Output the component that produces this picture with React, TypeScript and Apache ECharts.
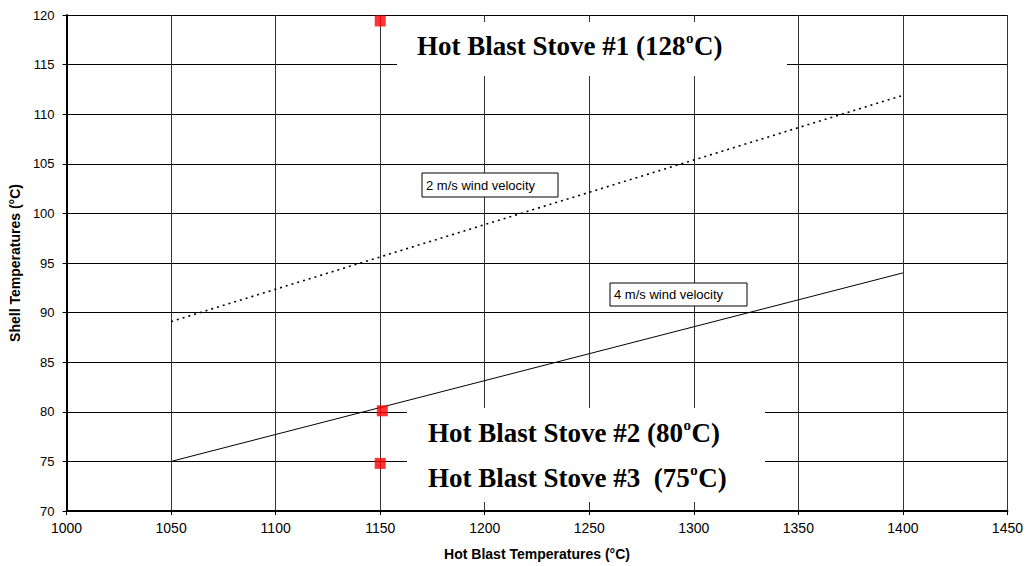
import React, { useEffect, useRef } from "react";
import * as echarts from "echarts";

const xTicks = { min: 1000, max: 1450, interval: 50 };
const yTicks = { min: 70, max: 120, interval: 5 };

const wind2Label = "2 m/s wind velocity";
const wind2 = [
  [1050, 89.1],
  [1400, 111.9],
];
const wind4Label = "4 m/s wind velocity";
const wind4 = [
  [1050, 75.0],
  [1400, 94.0],
];
const stovePoints = [
  [1150, 119.4],
  [1151, 80.1],
  [1150, 74.8],
];
const stoveLabels = [
  ["Hot Blast Stove #1 (128", "o", "C)"],
  ["Hot Blast Stove #2 (80", "o", "C)"],
  ["Hot Blast Stove #3  (75", "o", "C)"],
];
const xAxisName = "Hot Blast Temperatures (°C)";
const yAxisName = "Shell Temperatures (°C)";

const SANS = "'Liberation Sans', Arial, sans-serif";
const SERIF = "'Liberation Serif', 'Times New Roman', serif";
const BIG = `bold 27px ${SERIF}`;
const SUP = `bold 15px ${SERIF}`;

function measure(text: string, font: string) {
  const c = document.createElement("canvas").getContext("2d");
  if (!c) return text.length * 12;
  c.font = font;
  return c.measureText(text).width;
}

function stoveText(parts: string[], x: number, y: number) {
  const w1 = measure(parts[0], BIG);
  const w2 = measure(parts[1], SUP);
  const base = { fill: "#000", textVerticalAlign: "middle", verticalAlign: "middle", align: "left" };
  return {
    type: "group",
    z: 20,
    children: [
      { type: "text", x, y, z: 20, style: { ...base, text: parts[0], font: BIG } },
      { type: "text", x: x + w1 + 0.5, y: y - 8, z: 20, style: { ...base, text: parts[1], font: SUP } },
      { type: "text", x: x + w1 + w2 + 1, y, z: 20, style: { ...base, text: parts[2], font: BIG } },
    ],
  };
}

function windBox(text: string, x: number, y: number, w: number, h: number) {
  return {
    type: "group",
    z: 20,
    children: [
      { type: "rect", shape: { x, y, width: w, height: h }, style: { fill: "#fff", stroke: "#000", lineWidth: 1 }, z: 20 },
      {
        type: "text",
        x: x + 4,
        y: y + h / 2,
        z: 21,
        style: { text, font: `13px ${SANS}`, fill: "#000", textVerticalAlign: "middle", verticalAlign: "middle" },
      },
    ],
  };
}

export default function App() {
  const ref = useRef<HTMLDivElement>(null);
  useEffect(() => {
    if (!ref.current) return;
    const chart = echarts.init(ref.current, undefined, { renderer: "svg" });
    chart.setOption({
      animation: false,
      backgroundColor: "#fff",
      grid: { left: 66, right: 17, top: 15, bottom: 53 },
      xAxis: {
        type: "value",
        min: xTicks.min,
        max: xTicks.max,
        interval: xTicks.interval,
        name: xAxisName,
        nameLocation: "middle",
        nameGap: 36,
        nameTextStyle: { fontFamily: SANS, fontSize: 14, fontWeight: "bold", color: "#000" },
        axisLine: { lineStyle: { color: "#000", width: 2 } },
        axisTick: { show: true, inside: false, length: 4, lineStyle: { color: "#000" } },
        axisLabel: { fontFamily: SANS, fontSize: 14, color: "#000", margin: 10, formatter: (v: number) => String(v) },
        splitLine: { show: true, lineStyle: { color: "#333", width: 1 } },
      },
      yAxis: {
        type: "value",
        min: yTicks.min,
        max: yTicks.max,
        interval: yTicks.interval,
        name: yAxisName,
        nameLocation: "middle",
        nameGap: 42,
        nameTextStyle: { fontFamily: SANS, fontSize: 14, fontWeight: "bold", color: "#000" },
        axisLine: { show: true, lineStyle: { color: "#000", width: 2 } },
        axisTick: { show: true, inside: false, length: 4, lineStyle: { color: "#000" } },
        axisLabel: { fontFamily: SANS, fontSize: 13, color: "#000", margin: 12 },
        splitLine: { show: true, lineStyle: { color: "#000", width: 1 } },
      },
      series: [
        {
          type: "line",
          name: wind2Label,
          data: wind2,
          symbol: "none",
          lineStyle: { color: "#000", width: 1.6, type: [2, 4] },
          z: 3,
        },
        {
          type: "line",
          name: wind4Label,
          data: wind4,
          symbol: "none",
          lineStyle: { color: "#000", width: 1 },
          z: 3,
        },
        {
          type: "scatter",
          data: stovePoints,
          symbol: "rect",
          symbolSize: 11,
          itemStyle: { color: "#ff0000" },
          z: 30,
        },
      ],
      graphic: [
        { type: "rect", z: 15, shape: { x: 397, y: 22, width: 390, height: 54 }, style: { fill: "#fff" } },
        { type: "rect", z: 15, shape: { x: 407, y: 408, width: 358, height: 94 }, style: { fill: "#fff" } },
        stoveText(stoveLabels[0], 417, 46),
        stoveText(stoveLabels[1], 428, 433),
        stoveText(stoveLabels[2], 428, 478),
        windBox(wind2Label, 422, 173, 136, 24),
        windBox(wind4Label, 610, 283, 137, 23),
      ],
    });
    return () => chart.dispose();
  }, []);
  return <div ref={ref} style={{ position: "absolute", left: 0, top: 0, width: 1026, height: 566 }} />;
}
